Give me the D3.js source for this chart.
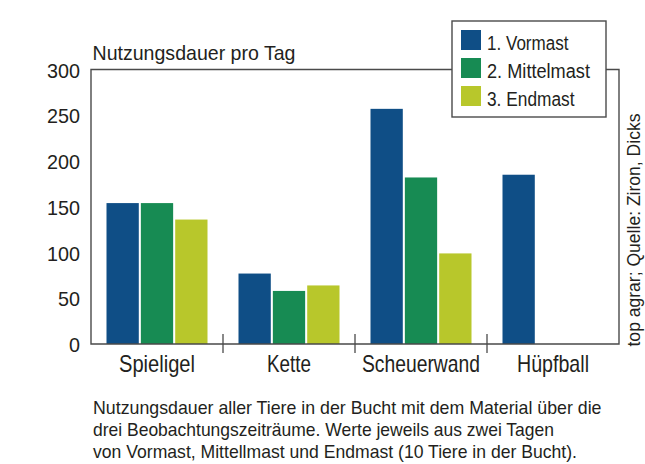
<!DOCTYPE html>
<html>
<head>
<meta charset="utf-8">
<script src="https://cdn.jsdelivr.net/npm/d3@7"></script>
<style>
  body { margin: 0; background: #fff; }
  text { font-family: "Liberation Sans", Arial, sans-serif; fill: #231f20; }
</style>
</head>
<body>
<div id="chart"></div>
<script>
var categories = ["Spieligel", "Kette", "Scheuerwand", "Hüpfball"];
var seriesNames = ["1. Vormast", "2. Mittelmast", "3. Endmast"];
var vormast = [154, 77, 257, 185];
var mittelmast = [154, 58, 182, null];
var endmast = [136, 64, 99, null];
var yTicks = [0, 50, 100, 150, 200, 250, 300];
var colors = ["#0f4e86", "#178b53", "#b8c72b"];
var title = "Nutzungsdauer pro Tag";
var source = "top agrar; Quelle: Ziron, Dicks";
var caption = [
  "Nutzungsdauer aller Tiere in der Bucht mit dem Material über die",
  "drei Beobachtungszeiträume. Werte jeweils aus zwei Tagen",
  "von Vormast, Mittellmast und Endmast (10 Tiere in der Bucht)."
];

var series = [vormast, mittelmast, endmast];
var w = 645;
var h = 464;
// "top" is taken by window.top, so plot edges get own names
var pLeft = 91, pRight = 619, pTop = 69.5, pBottom = 344;
var frameColor = "#4a4a4a";

var svg = d3
  .select("#chart")
  .append("svg")
  .attr("width", w)
  .attr("height", h);

var x = d3.scaleBand().domain(categories).range([pLeft, pRight]).padding(0);
var xs = d3
  .scaleBand()
  .domain(seriesNames)
  .range([15.5, x.bandwidth() - 15.5])
  .paddingInner(0.06);
var y = d3.scaleLinear().domain([0, 300]).range([pBottom, pTop]);

// bars
var rows = [];
categories.forEach((c, i) => {
  seriesNames.forEach((s, j) => {
    if (series[j][i] != null) rows.push({ cat: c, ser: s, j: j, v: series[j][i] });
  });
});

svg
  .append("g")
  .selectAll("rect")
  .data(rows)
  .enter()
  .append("rect")
  .attr("x", (d) => x(d.cat) + xs(d.ser))
  .attr("y", (d) => y(d.v))
  .attr("width", xs.bandwidth())
  .attr("height", (d) => y(0) - y(d.v))
  .attr("fill", (d) => colors[d.j]);

// frame
var legX = 452, legY = 21, legW = 154, legH = 96;
svg
  .append("path")
  .attr(
    "d",
    `M${legX},${pTop}H${pLeft}V${pBottom}H${pRight}V${pTop}H${legX + legW}`
  )
  .attr("fill", "none")
  .attr("stroke", frameColor)
  .attr("stroke-width", 1.4);

// separators between categories
svg
  .append("g")
  .selectAll("line")
  .data(categories.slice(1))
  .enter()
  .append("line")
  .attr("x1", (d) => x(d))
  .attr("x2", (d) => x(d))
  .attr("y1", pBottom - 10)
  .attr("y2", pBottom + 9)
  .attr("stroke", frameColor)
  .attr("stroke-width", 1.3);

// y axis labels
var yAxis = svg
  .append("g")
  .attr("transform", `translate(${pLeft},0)`)
  .call(d3.axisLeft(y).tickValues(yTicks).tickSize(0).tickPadding(11));
yAxis.select(".domain").remove();
yAxis.attr("font-family", null).attr("font-size", null);
yAxis
  .selectAll("text")
  .style("font-size", "21px")
  .attr("dy", "0.36em")
  .attr("textLength", (d) => String(d).length * 11)
  .attr("lengthAdjust", "spacingAndGlyphs");

// x labels
var xWidths = [76, 44, 118, 72];
svg
  .append("g")
  .selectAll("text")
  .data(categories)
  .enter()
  .append("text")
  .attr("x", (d, i) => x(d) + x.bandwidth() / 2 - xWidths[i] / 2)
  .attr("y", 371.5)
  .style("font-size", "24px")
  .attr("textLength", (d, i) => xWidths[i])
  .attr("lengthAdjust", "spacingAndGlyphs")
  .text((d) => d);

// title
svg
  .append("text")
  .attr("x", 92.5)
  .attr("y", 60)
  .style("font-size", "21px")
  .attr("textLength", 203)
  .attr("lengthAdjust", "spacingAndGlyphs")
  .text(title);

// legend
svg
  .append("rect")
  .attr("x", legX)
  .attr("y", legY)
  .attr("width", legW)
  .attr("height", legH)
  .attr("fill", "#fff")
  .attr("stroke", frameColor)
  .attr("stroke-width", 1.4);

var legWidths = [81.5, 103, 87.5];
var leg = svg
  .append("g")
  .selectAll("g")
  .data(seriesNames)
  .enter()
  .append("g")
  .attr("transform", (d, i) => `translate(${legX + 9},${legY + 9 + i * 28})`);
leg
  .append("rect")
  .attr("width", 20)
  .attr("height", 20)
  .attr("fill", (d, i) => colors[i]);
leg
  .append("text")
  .attr("x", 26)
  .attr("y", 20)
  .style("font-size", "19.5px")
  .attr("textLength", (d, i) => legWidths[i])
  .attr("lengthAdjust", "spacingAndGlyphs")
  .text((d) => d);

// source, rotated
svg
  .append("text")
  .attr("transform", "translate(640,346.5) rotate(-90)")
  .style("font-size", "17.5px")
  .attr("textLength", 233)
  .attr("lengthAdjust", "spacingAndGlyphs")
  .text(source);

// caption
var capWidths = [508.5, 461, 484];
svg
  .append("g")
  .selectAll("text")
  .data(caption)
  .enter()
  .append("text")
  .attr("x", 93)
  .attr("y", (d, i) => 413.5 + i * 22)
  .style("font-size", "19px")
  .attr("textLength", (d, i) => capWidths[i])
  .attr("lengthAdjust", "spacingAndGlyphs")
  .text((d) => d);
</script>
</body>
</html>
